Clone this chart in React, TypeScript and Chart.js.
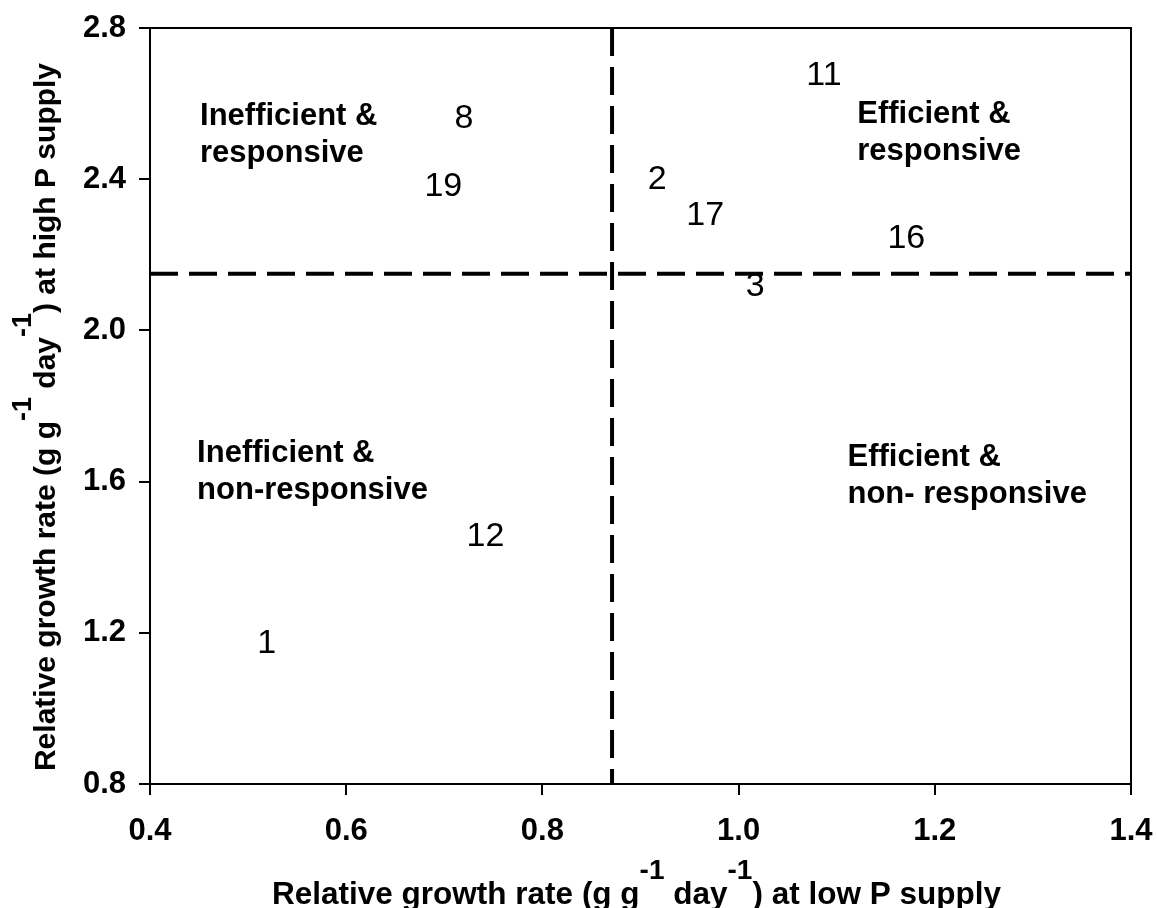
import React, { useEffect, useRef } from "react";
import { Chart, registerables } from "chart.js";

Chart.register(...registerables);

// ---- data ----
const cultivarLabels = ["1", "2", "3", "8", "11", "12", "16", "17", "19"];
const rgrLowP = [0.519, 0.917, 1.017, 0.72, 1.087, 0.742, 1.171, 0.966, 0.699];
const rgrHighP = [1.176, 2.403, 2.12, 2.565, 2.678, 1.459, 2.247, 2.308, 2.385];

const meanLowP = 0.871;
const meanHighP = 2.15;

const xMin = 0.4;
const xMax = 1.4;
const xStep = 0.2;
const yMin = 0.8;
const yMax = 2.8;
const yStep = 0.4;

const quadrantLines = [
  ["Inefficient &", "responsive"],
  ["Efficient &", "responsive"],
  ["Inefficient &", "non-responsive"],
  ["Efficient &", "non- responsive"],
];
const quadrantAnchorX = [0.451, 1.121, 0.448, 1.111];
const quadrantAnchorY = [2.543, 2.549, 1.652, 1.641];

const xTitleParts = ["Relative growth rate (g g", "-1", " day", "-1", ") at low P supply"];
const yTitleParts = ["Relative growth rate (g g", "-1", " day", "-1", ") at high P supply"];
const titleSup = [false, true, false, true, false];

// ---- styles ----
const FONT = '"Liberation Sans", Arial, Helvetica, sans-serif';

function drawRich(
  ctx: CanvasRenderingContext2D,
  parts: string[],
  sup: boolean[],
  cx: number,
  baseline: number,
  mainFont: string,
  supFont: string,
  raise: number
) {
  const widths = parts.map((p, i) => {
    ctx.font = sup[i] ? supFont : mainFont;
    return ctx.measureText(p).width;
  });
  const total = widths.reduce((a, b) => a + b, 0);
  let x = cx - total / 2;
  ctx.textAlign = "left";
  ctx.textBaseline = "alphabetic";
  parts.forEach((p, i) => {
    ctx.font = sup[i] ? supFont : mainFont;
    ctx.fillText(p, x, sup[i] ? baseline - raise : baseline);
    x += widths[i];
  });
}

const overlayPlugin = {
  id: "overlay",
  afterDatasetsDraw(chart: any) {
    const ctx: CanvasRenderingContext2D = chart.ctx;
    const { left, top, right, bottom } = chart.chartArea;
    const xs = chart.scales.x;
    const ys = chart.scales.y;
    ctx.save();
    // frame
    ctx.strokeStyle = "#000";
    ctx.lineWidth = 2;
    ctx.strokeRect(left, top, right - left, bottom - top);

    // point labels
    const meta = chart.getDatasetMeta(0);
    ctx.fillStyle = "#000";
    ctx.font = `34px ${FONT}`;
    ctx.textAlign = "center";
    ctx.textBaseline = "middle";
    meta.data.forEach((el: any, i: number) => {
      ctx.fillText(cultivarLabels[i], el.x, el.y + 2);
    });

    // quadrant labels
    ctx.font = `bold 31px ${FONT}`;
    ctx.textAlign = "left";
    ctx.textBaseline = "alphabetic";
    quadrantLines.forEach((lines, i) => {
      const px = xs.getPixelForValue(quadrantAnchorX[i]);
      const py = ys.getPixelForValue(quadrantAnchorY[i]);
      lines.forEach((ln, j) => ctx.fillText(ln, px, py + j * 37));
    });
    ctx.restore();
  },
  afterDraw(chart: any) {
    const ctx: CanvasRenderingContext2D = chart.ctx;
    const { left, top, right, bottom } = chart.chartArea;
    ctx.save();
    ctx.fillStyle = "#000";
    drawRich(ctx, xTitleParts, titleSup, (left + right) / 2 - 4, 904, `bold 31.5px ${FONT}`, `bold 28px ${FONT}`, 25);
    ctx.translate(55, (top + bottom) / 2 + 11);
    ctx.rotate(-Math.PI / 2);
    drawRich(ctx, yTitleParts, titleSup, 0, 0, `bold 30px ${FONT}`, `bold 27px ${FONT}`, 24);
    ctx.restore();
  },
};

export default function App() {
  const ref = useRef<HTMLCanvasElement | null>(null);

  useEffect(() => {
    if (!ref.current) return;
    const points = rgrLowP.map((x, i) => ({ x, y: rgrHighP[i] }));
    const tickFont = { family: FONT, size: 31, weight: "bold" as const };
    const dashed = {
      showLine: true,
      borderColor: "#000",
      borderWidth: 4,
      borderDash: [28, 11],
      pointRadius: 0,
      pointHoverRadius: 0,
      fill: false,
    };
    const chart = new Chart(ref.current, {
      type: "scatter",
      data: {
        datasets: [
          {
            data: points,
            pointRadius: 0,
            pointHoverRadius: 0,
            showLine: false,
          },
          {
            ...dashed,
            data: [
              { x: xMin, y: meanHighP },
              { x: xMax, y: meanHighP },
            ],
          },
          {
            ...dashed,
            data: [
              { x: meanLowP, y: yMax },
              { x: meanLowP, y: yMin },
            ],
          },
        ],
      },
      options: {
        animation: false,
        responsive: false,
        devicePixelRatio: 1,
        layout: { padding: { top: 28, right: 26, left: 0, bottom: 0 } },
        plugins: {
          legend: { display: false },
          tooltip: { enabled: false },
        },
        scales: {
          x: {
            type: "linear",
            min: xMin,
            max: xMax,
            ticks: {
              stepSize: xStep,
              color: "#000",
              font: tickFont,
              padding: 18,
              maxRotation: 0,
              autoSkip: false,
              callback: (v: any) => Number(v).toFixed(1),
            },
            grid: { drawOnChartArea: false, drawTicks: true, tickLength: 11, color: "#000", lineWidth: 2 },
            border: { display: true, color: "#000", width: 2 },
            afterFit: (s: any) => {
              s.height = 124;
              s.paddingLeft = 0;
              s.paddingRight = 0;
            },
          },
          y: {
            type: "linear",
            min: yMin,
            max: yMax,
            ticks: {
              stepSize: yStep,
              color: "#000",
              font: tickFont,
              padding: 13,
              autoSkip: false,
              callback: (v: any) => Number(v).toFixed(1),
            },
            grid: { drawOnChartArea: false, drawTicks: true, tickLength: 11, color: "#000", lineWidth: 2 },
            border: { display: true, color: "#000", width: 2 },
            afterFit: (s: any) => {
              s.width = 150;
              s.paddingTop = 0;
              s.paddingBottom = 0;
            },
          },
        },
      },
      plugins: [overlayPlugin],
    });
    return () => chart.destroy();
  }, []);

  return (
    <div style={{ position: "absolute", left: 0, top: 0, width: 1157, height: 908, background: "#fff" }}>
      <canvas ref={ref} width={1157} height={908} style={{ display: "block" }} />
    </div>
  );
}
